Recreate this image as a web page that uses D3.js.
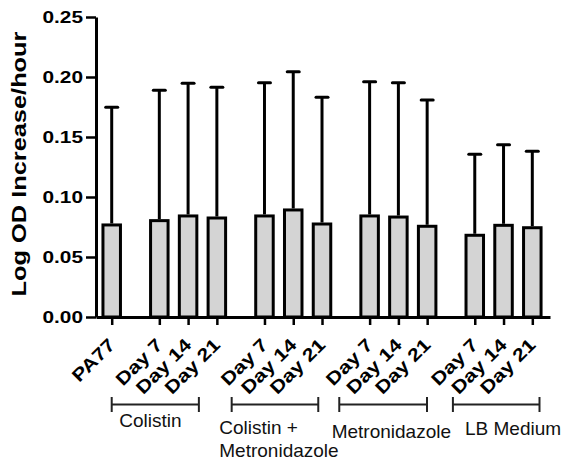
<!DOCTYPE html>
<html><head><meta charset="utf-8">
<script src="https://cdn.jsdelivr.net/npm/d3@7"></script>
<style>
html,body{margin:0;padding:0;background:#fff;}
svg{display:block;font-family:Arial,"Liberation Sans",Helvetica,sans-serif;}
</style></head>
<body><svg id="c" width="564" height="461"></svg>
<script>
// ---- data ----
const categories = ["PA77","Day 7","Day 14","Day 21","Day 7","Day 14","Day 21","Day 7","Day 14","Day 21","Day 7","Day 14","Day 21"];
const groupIndex = [0,1,1,1,2,2,2,3,3,3,4,4,4];
const means = [0.0767,0.0803,0.0842,0.0825,0.0842,0.0892,0.0775,0.0842,0.0833,0.0756,0.0681,0.0764,0.0744];
const upper = [0.1747,0.1890,0.1947,0.1914,0.1953,0.2044,0.1831,0.1961,0.1953,0.1808,0.1356,0.1436,0.1381];
const yTicks = [0.00,0.05,0.10,0.15,0.20,0.25];
const yTitle = "Log OD Increase/hour";
const groupNames = [["Colistin"],["Colistin +","Metronidazole"],["Metronidazole"],["LB Medium"]];
// annotation layout (bracket spans in slot units, label anchors)
const bracketSpans = [[0,3.03],[4.17,7.18],[7.91,10.96],[11.86,14.87]];
const labelAnchors = [[0.264,427],[3.74,434],[7.647,438],[12.28,435]];

const svg = d3.select("#c");
const stretch = 1.26;
const gapExtra = 0.655;
const pos = categories.map((c,i)=> i + groupIndex[i]*gapExtra);

const x = d3.scaleLinear().domain([-0.546, 15.235]).range([96, 550]);
const y = d3.scaleLinear().domain([0, 0.25]).range([317, 17]);

function widen(sel, s){
  sel.each(function(){
    const w = this.getComputedTextLength();
    d3.select(this).attr("textLength", w*s).attr("lengthAdjust","spacingAndGlyphs");
  });
}

// bars
const barW = 17.5;
svg.append("g").selectAll("rect").data(means).join("rect")
  .attr("x",(d,i)=>x(pos[i])-barW/2).attr("width",barW)
  .attr("y",d=>y(d)).attr("height",d=>y(0)-y(d))
  .attr("fill","#d4d4d4").attr("stroke","#000").attr("stroke-width",3);

// error bars
const eg = svg.append("g").attr("stroke","#000").attr("stroke-width",3);
eg.selectAll("line.v").data(means).join("line").attr("class","v")
  .attr("x1",(d,i)=>x(pos[i])).attr("x2",(d,i)=>x(pos[i]))
  .attr("y1",d=>y(d)-1.5).attr("y2",(d,i)=>y(upper[i]));
eg.selectAll("line.c").data(upper).join("line").attr("class","c")
  .attr("x1",(d,i)=>x(pos[i])-6).attr("x2",(d,i)=>x(pos[i])+6)
  .attr("y1",d=>y(d)).attr("y2",d=>y(d)).attr("stroke-linecap","round");

// y axis
const ya = svg.append("g").attr("transform","translate(96,0)")
  .call(d3.axisLeft(y).tickValues(yTicks).tickFormat(d3.format(".2f")).tickSize(10).tickSizeOuter(0).tickPadding(3));
ya.select(".domain").attr("stroke-width",3).attr("stroke","#000");
ya.selectAll(".tick line").attr("stroke-width",2.5).attr("stroke","#000");
ya.selectAll(".tick text").attr("font-size","16.8px").attr("font-weight","bold").attr("fill","#000")
  .attr("font-family","Arial,'Liberation Sans',sans-serif").call(widen, 1.24);

// x axis
const xa = svg.append("g").attr("transform","translate(0,317)")
  .call(d3.axisBottom(x).tickValues(pos).tickFormat((d,i)=>categories[i]).tickSize(8).tickSizeOuter(0));
xa.select(".domain").attr("stroke-width",3).attr("stroke","#000");
xa.selectAll(".tick line").attr("stroke-width",2.5).attr("stroke","#000");
xa.selectAll(".tick text").attr("font-size","18px").attr("font-weight","bold").attr("fill","#000")
  .attr("font-family","Arial,'Liberation Sans',sans-serif")
  .attr("text-anchor","end").attr("dy",null).attr("y",null)
  .attr("transform","translate(4,29) rotate(-45)").call(widen, 1.2);

// y title
svg.append("text").attr("transform",`translate(26,${164}) rotate(-90)`)
  .attr("text-anchor","middle").attr("font-size","20px").attr("font-weight","bold")
  .text(yTitle).attr("textLength",265).attr("lengthAdjust","spacingAndGlyphs");

// brackets
const bg = svg.append("g").attr("stroke","#222").attr("stroke-width",2);
bracketSpans.forEach(s=>{
  const a = x(s[0]), b = x(s[1]), yy = 404.5;
  bg.append("line").attr("x1",a).attr("x2",b).attr("y1",yy).attr("y2",yy);
  bg.append("line").attr("x1",a).attr("x2",a).attr("y1",yy-7.5).attr("y2",yy+7.5);
  bg.append("line").attr("x1",b).attr("x2",b).attr("y1",yy-7.5).attr("y2",yy+7.5);
});

// group labels
groupNames.forEach((lines,gi)=>{
  const t = svg.append("text").attr("font-size","19px").attr("fill","#111")
    .attr("x",x(labelAnchors[gi][0])).attr("y",labelAnchors[gi][1]);
  lines.forEach((l,li)=>{
    t.append("tspan").attr("x",x(labelAnchors[gi][0])).attr("dy",li===0?0:23).text(l);
  });
});
</script></body></html>
